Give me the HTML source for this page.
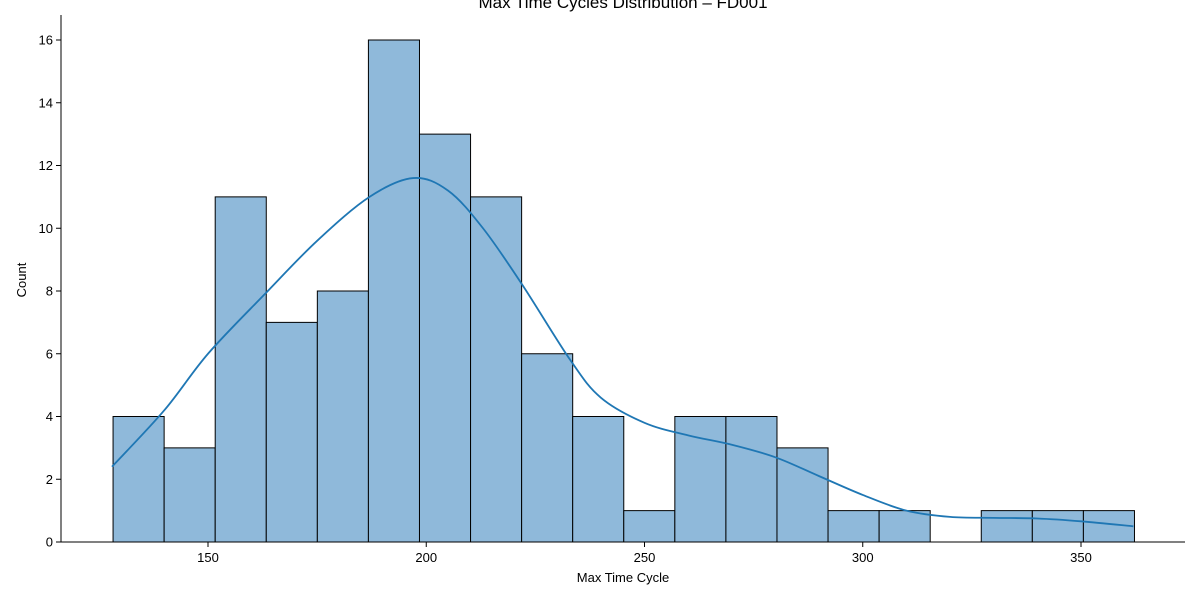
<!DOCTYPE html>
<html><head><meta charset="utf-8"><style>
body{margin:0;background:#fff;}
svg{display:block;font-family:"Liberation Sans","DejaVu Sans",sans-serif;}
</style></head><body>
<svg id="chart" width="1200" height="600">
<text x="623" y="8" text-anchor="middle" font-size="17">Max Time Cycles Distribution – FD001</text>
<g id="bars"></g>
<path id="kde" fill="none" stroke="#1f77b4" stroke-width="1.8"/>
<g id="axes"></g>
<text x="623" y="582" text-anchor="middle" font-size="13">Max Time Cycle</text>
<text transform="translate(26,280) rotate(-90)" text-anchor="middle" font-size="13">Count</text>
</svg>
<script>
const binStart = 128.25;
const binWidth = 11.7;
const counts = [4,3,11,7,8,16,13,11,6,4,1,4,4,3,1,1,0,1,1,1];
const kdeX = [128,140,150,163,175,187,197,205,213,222,233,240,250,260,270,280,290,300,310,320,330,340,350,362];
const kdeY = [2.4,4.2,6.0,7.9,9.6,11.0,11.6,11.2,10.0,8.2,5.8,4.6,3.8,3.4,3.1,2.7,2.1,1.5,1.0,0.8,0.77,0.75,0.66,0.5];
const yTicks = [0,2,4,6,8,10,12,14,16];
const xTicks = [150,200,250,300,350];

const ns = "http://www.w3.org/2000/svg";
const X = v => 208 + (v - 150) * 4.365;
const Y = v => 542 - v * 31.375;
const bars = document.getElementById('bars');
counts.forEach((c, i) => {
  if (c === 0) return;
  const r = document.createElementNS(ns, 'rect');
  const x0 = X(binStart + i * binWidth), x1 = X(binStart + (i + 1) * binWidth);
  r.setAttribute('x', x0); r.setAttribute('y', Y(c));
  r.setAttribute('width', x1 - x0); r.setAttribute('height', Y(0) - Y(c));
  r.setAttribute('fill', '#8fb9da'); r.setAttribute('stroke', '#000'); r.setAttribute('stroke-width', '1');
  
  
  bars.appendChild(r);
});
const pts = kdeX.map((x, i) => [X(x), Y(kdeY[i])]);
let d = `M${pts[0][0]},${pts[0][1]}`;
for (let i = 0; i < pts.length - 1; i++) {
  const p0 = pts[Math.max(i - 1, 0)], p1 = pts[i], p2 = pts[i + 1], p3 = pts[Math.min(i + 2, pts.length - 1)];
  d += ` C${p1[0] + (p2[0] - p0[0]) / 6},${p1[1] + (p2[1] - p0[1]) / 6} ${p2[0] - (p3[0] - p1[0]) / 6},${p2[1] - (p3[1] - p1[1]) / 6} ${p2[0]},${p2[1]}`;
}
document.getElementById('kde').setAttribute('d', d);

const axes = document.getElementById('axes');
function el(tag, attrs, name, text) {
  const e = document.createElementNS(ns, tag);
  for (const k in attrs) e.setAttribute(k, attrs[k]);
  
  
  if (text !== undefined) e.textContent = text;
  axes.appendChild(e);
  return e;
}
el('line', {x1: 61, y1: 15, x2: 61, y2: 542, stroke: '#000', 'stroke-width': 1}, 'y-axis-line');
el('line', {x1: 61, y1: 542, x2: 1185, y2: 542, stroke: '#000', 'stroke-width': 1}, 'x-axis-line');
yTicks.forEach(t => {
  el('line', {x1: 56, y1: Y(t), x2: 61, y2: Y(t), stroke: '#000'}, 'y-tick');
  el('text', {x: 53, y: Y(t) + 4.5, 'text-anchor': 'end', 'font-size': 13}, 'y-tick-label', t);
});
xTicks.forEach(t => {
  el('line', {x1: X(t), y1: 542, x2: X(t), y2: 547, stroke: '#000'}, 'x-tick');
  el('text', {x: X(t), y: 562, 'text-anchor': 'middle', 'font-size': 13}, 'x-tick-label', t);
});
</script>
</body></html>
